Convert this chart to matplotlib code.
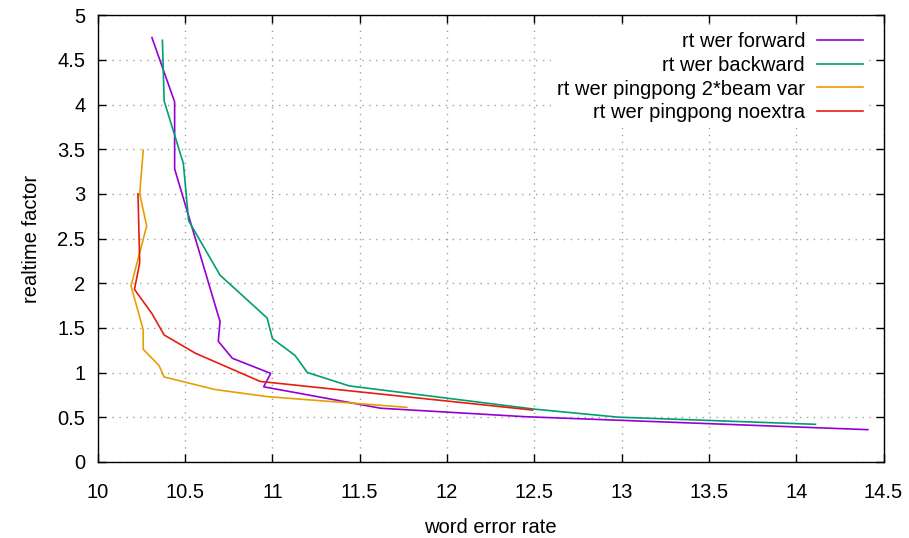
import matplotlib.pyplot as plt
import matplotlib

matplotlib.rcParams['font.family'] = ['Liberation Sans', 'DejaVu Sans']
matplotlib.rcParams['font.size'] = 14.5

# data (word error rate, realtime factor)
fwd_wer = [10.31, 10.44, 10.44, 10.70, 10.69, 10.77, 10.99, 10.95, 11.62, 12.45, 14.41]
fwd_rt = [4.75, 4.03, 3.28, 1.57, 1.35, 1.16, 0.99, 0.84, 0.60, 0.505, 0.36]

bwd_wer = [10.37, 10.38, 10.49, 10.52, 10.70, 10.97, 11.00, 11.13, 11.20, 11.44, 12.50, 12.98, 14.11]
bwd_rt = [4.72, 4.04, 3.34, 2.70, 2.09, 1.61, 1.38, 1.19, 1.00, 0.85, 0.59, 0.50, 0.42]

pp2_wer = [10.26, 10.24, 10.28, 10.19, 10.26, 10.26, 10.35, 10.38, 10.67, 10.97, 11.77]
pp2_rt = [3.49, 3.00, 2.64, 1.97, 1.48, 1.26, 1.08, 0.95, 0.81, 0.73, 0.61]

ppn_wer = [10.23, 10.24, 10.21, 10.31, 10.38, 10.56, 10.93, 12.49]
ppn_rt = [3.00, 2.23, 1.93, 1.66, 1.42, 1.215, 0.90, 0.58]

xticks = [10, 10.5, 11, 11.5, 12, 12.5, 13, 13.5, 14, 14.5]
yticks = [0, 0.5, 1, 1.5, 2, 2.5, 3, 3.5, 4, 4.5, 5]

fig = plt.figure(figsize=(9.09, 5.38), dpi=100)
ax = fig.add_axes([0.1076, 0.1416, 0.8644, 0.83])

ax.plot(fwd_wer, fwd_rt, color='#9400d3', lw=1.2, label='rt wer forward')
ax.plot(bwd_wer, bwd_rt, color='#009e73', lw=1.2, label='rt wer backward')
ax.plot(pp2_wer, pp2_rt, color='#e69f00', lw=1.2, label='rt wer pingpong 2*beam var')
ax.plot(ppn_wer, ppn_rt, color='#e51e10', lw=1.2, label='rt wer pingpong noextra')

ax.set_xlim(10, 14.5)
ax.set_ylim(0, 5)
ax.set_xticks(xticks)
ax.set_xticklabels([f'{t:g}' for t in xticks])
ax.set_yticks(yticks)
ax.set_yticklabels([f'{t:g}' for t in yticks])
ax.tick_params(direction='in', length=6, width=1, top=True, right=True, labelsize=14.5)
ax.tick_params(axis='x', pad=15)
ax.tick_params(axis='y', pad=9)
ax.grid(True, color='#a0a0a0', linestyle=(0, (1, 4)), linewidth=1)
for s in ax.spines.values():
    s.set_linewidth(1)

ax.set_xlabel('word error rate', fontsize=14.5, labelpad=12)
ax.set_ylabel('realtime factor', fontsize=14.5, labelpad=12)

leg = ax.legend(loc='upper right', bbox_to_anchor=(1.0, 1.008), markerfirst=False,
                frameon=True, fontsize=14.5, handlelength=2.3, labelspacing=0.24,
                borderaxespad=0.7, handletextpad=0.6, borderpad=0.3)
leg.get_frame().set_edgecolor('none')
leg.get_frame().set_facecolor('white')
leg.get_frame().set_alpha(1)

fig.savefig('out.png', dpi=100)
